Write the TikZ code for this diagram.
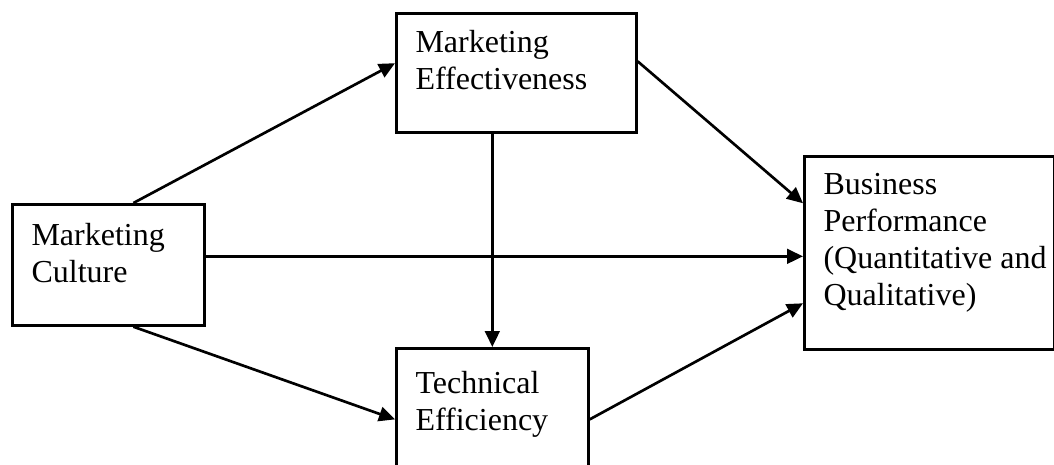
\documentclass[tikz,border=0pt]{standalone}
\usepackage{fontspec}
\setmainfont{Liberation Serif}
\usetikzlibrary{arrows.meta}

\begin{document}
\begin{tikzpicture}[
  x=0.375pt, y=-0.375pt,
  box/.style={rectangle, draw, line width=1pt, anchor=north west, inner sep=0pt},
  txt/.style={anchor=north west, align=left, inner xsep=7.5pt, inner ysep=6.75pt,
              font=\fontsize{12pt}{13.8pt}\selectfont},
  arr/.style={-{Triangle[length=6pt, width=5.5pt]}, line width=1pt}
]
  \useasboundingbox (0,0) rectangle (1054,464);
  \node[box, minimum width=72pt, minimum height=45.4pt,
        label={[txt, yshift=-0.75pt]north west:Marketing\\Culture}] (MC) at (11,203) {};
  \node[box, minimum width=90pt, minimum height=44.6pt,
        label={[txt]north west:Marketing\\Effectiveness}] (ME) at (395,12) {};
  \node[box, minimum width=72pt, minimum height=46.1pt,
        label={[txt, yshift=-2.25pt]north west:Technical\\Efficiency}] (TE) at (395,347) {};
  \node[box, minimum width=93.75pt, minimum height=72.4pt,
        label={[txt]north west:Business\\Performance\\(Quantitative and\\Qualitative)}] (BP) at (803,155) {};
  \draw[arr] ([xshift=9.4pt]MC.north) -- ([yshift=3.6pt]ME.west);
  \draw[arr] ([yshift=3.2pt]MC.east) -- ([yshift=-1.3pt]BP.west);
  \draw[arr] ([xshift=9.4pt]MC.south) -- ([yshift=-3.6pt]TE.west);
  \draw[arr] (ME.south -| TE.north) -- (TE.north);
  \draw[arr] ([yshift=4.3pt]ME.east) -- ([yshift=18.6pt]BP.west);
  \draw[arr] ([yshift=-3.6pt]TE.east) -- ([yshift=-18.9pt]BP.west);
\end{tikzpicture}
\end{document}
